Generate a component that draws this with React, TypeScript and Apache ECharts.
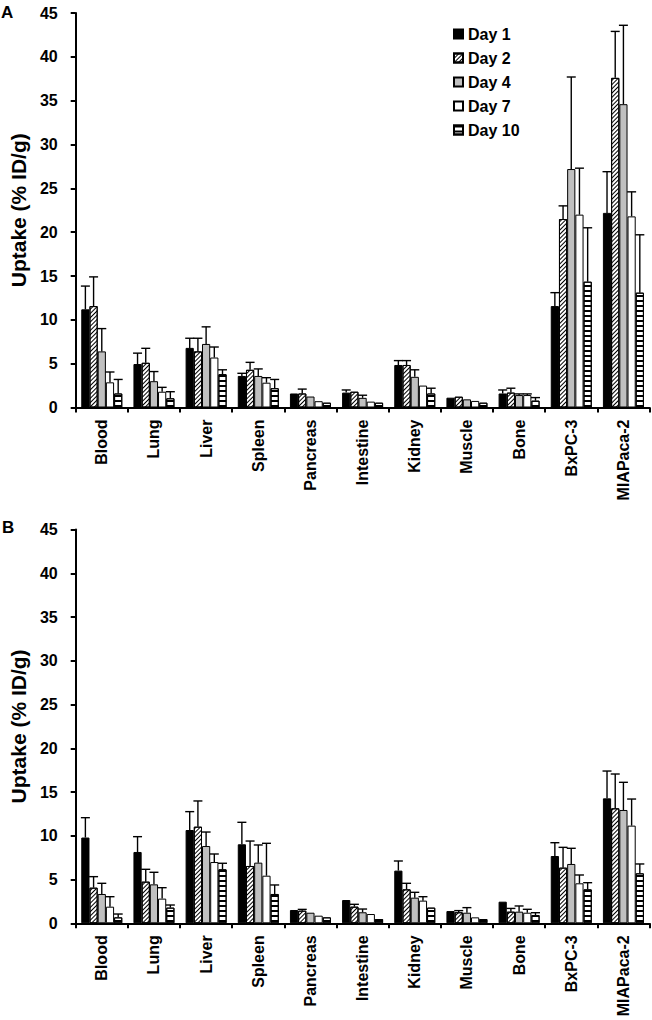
import React, { useEffect, useRef } from "react";
import * as echarts from "echarts";

const categories = ["Blood", "Lung", "Liver", "Spleen", "Pancreas", "Intestine", "Kidney", "Muscle", "Bone", "BxPC-3", "MIAPaca-2"];
const dayNames = ["Day 1", "Day 2", "Day 4", "Day 7", "Day 10"];
const yTicks = { min: 0, max: 45, interval: 5 };

// Panel A
const aDay1 = [11.2, 4.96, 6.8, 3.6, 1.6, 1.7, 4.85, 1.12, 1.6, 11.57, 22.2];
const aDay2 = [11.57, 5.1, 6.4, 4.3, 1.6, 1.8, 4.85, 1.23, 1.7, 21.5, 37.6];
const aDay4 = [6.4, 3.0, 7.25, 3.6, 1.25, 1.1, 3.5, 0.93, 1.42, 27.2, 34.6];
const aDay7 = [2.87, 1.8, 5.7, 2.83, 0.72, 0.67, 2.5, 0.75, 1.42, 22.0, 21.8];
const aDay10 = [1.6, 1.05, 3.8, 2.2, 0.55, 0.55, 1.6, 0.55, 0.78, 14.35, 13.1];
const aErr1 = [2.65, 1.24, 1.1, 0.3, 0, 0.3, 0.5, 0, 0.4, 1.53, 4.7];
const aErr2 = [3.33, 1.65, 1.5, 0.85, 0.5, 0, 0.5, 0, 0.5, 1.5, 5.3];
const aErr4 = [2.6, 1.1, 1.95, 0.8, 0, 0.3, 0.8, 0, 0.13, 10.5, 9.0];
const aErr7 = [1.18, 0.5, 1.2, 0.57, 0, 0, 0, 0, 0.13, 5.3, 2.8];
const aErr10 = [1.6, 0.75, 0.5, 1.0, 0, 0, 0.6, 0, 0.35, 6.15, 6.6];

// Panel B
const bDay1 = [9.8, 8.15, 10.66, 9.03, 1.52, 2.66, 6.02, 1.4, 2.47, 7.69, 14.28];
const bDay2 = [4.07, 4.76, 11.04, 6.55, 1.44, 1.9, 3.88, 1.26, 1.33, 6.36, 13.14];
const bDay4 = [3.35, 4.45, 8.83, 6.93, 1.21, 1.26, 2.93, 1.21, 1.33, 6.78, 12.95];
const bDay7 = [1.9, 2.82, 7.0, 5.44, 0.87, 1.06, 2.59, 0.68, 1.21, 4.57, 11.16];
const bDay10 = [0.68, 1.79, 6.17, 3.35, 0.68, 0.49, 1.79, 0.49, 0.95, 3.88, 5.71];
const bErr1 = [2.27, 1.75, 2.1, 2.51, 0, 0, 1.1, 0, 0, 1.52, 3.12];
const bErr2 = [1.26, 1.41, 2.94, 2.85, 0.15, 0.27, 0.69, 0.19, 0.37, 2.32, 3.92];
const bErr4 = [1.22, 1.38, 1.6, 2.02, 0, 0.37, 0.61, 0.58, 0.65, 1.79, 3.16];
const bErr7 = [1.14, 1.25, 0.92, 3.7, 0, 0, 0.45, 0, 0.39, 0.95, 3.04];
const bErr10 = [0.38, 0.3, 0.69, 1.03, 0, 0, 0, 0, 0.26, 0.76, 1.07];

const panelA = [aDay1, aDay2, aDay4, aDay7, aDay10];
const panelAErr = [aErr1, aErr2, aErr4, aErr7, aErr10];
const panelB = [bDay1, bDay2, bDay4, bDay7, bDay10];
const panelBErr = [bErr1, bErr2, bErr4, bErr7, bErr10];

const FONT = "'Liberation Sans', Arial, Helvetica, sans-serif";
const BAR_W = 8.2;
const CAP = 4.5;

const dayStyles: any[] = [
  { color: "#000000", borderColor: "#000", borderWidth: 1 },
  {
    color: "#ffffff", borderColor: "#000", borderWidth: 1,
    decal: { symbol: "rect", symbolSize: 1, dashArrayX: [1, 0], dashArrayY: [1, 2], rotation: -Math.PI / 4, color: "#000" },
  },
  { color: "#c0c0c0", borderColor: "#000", borderWidth: 1 },
  { color: "#ffffff", borderColor: "#000", borderWidth: 1 },
  {
    color: "#ffffff", borderColor: "#000", borderWidth: 1,
    decal: { symbol: "rect", symbolSize: 1, dashArrayX: [1, 0], dashArrayY: [2, 3], rotation: 0, color: "#000" },
  },
];

function buildPanel(idx: number, values: number[][], errs: number[][]) {
  const series: any[] = values.map((vals, s) => ({
    type: "bar",
    name: dayNames[s],
    xAxisIndex: idx,
    yAxisIndex: idx,
    data: vals,
    barWidth: BAR_W,
    barGap: "0%",
    itemStyle: dayStyles[s],
    emphasis: { disabled: true },
    z: 2,
  }));
  const errData: number[][] = [];
  values.forEach((vals, s) => {
    vals.forEach((v, c) => {
      errData.push([c, v, errs[s][c], s]);
    });
  });
  series.push({
    type: "custom",
    name: "err" + idx,
    xAxisIndex: idx,
    yAxisIndex: idx,
    data: errData,
    encode: { x: 0, y: 1 },
    z: 5,
    silent: true,
    renderItem: (params: any, api: any) => {
      const c = api.value(0);
      const v = api.value(1);
      const e = api.value(2);
      const s = api.value(3);
      if (!(e > 0)) return null;
      const p0 = api.coord([c, v]);
      const p1 = api.coord([c, v + e]);
      const cx = p0[0] + (s - 2) * BAR_W;
      return {
        type: "group",
        children: [
          { type: "line", shape: { x1: cx, y1: p0[1], x2: cx, y2: p1[1] }, style: { stroke: "#000", lineWidth: 1.4 } },
          { type: "line", shape: { x1: cx - CAP, y1: p1[1], x2: cx + CAP, y2: p1[1] }, style: { stroke: "#000", lineWidth: 1.4 } },
        ],
      };
    },
  });
  return series;
}

function makeXAxis(idx: number) {
  return {
    type: "category",
    gridIndex: idx,
    data: categories,
    boundaryGap: true,
    axisLine: { show: true, lineStyle: { color: "#000", width: 2 } },
    axisTick: { show: true, length: 5, lineStyle: { color: "#000", width: 2 } },
    axisLabel: { rotate: 90, margin: 12, color: "#000", fontSize: 16, fontWeight: "bold", fontFamily: FONT },
    splitLine: { show: false },
  };
}

function makeYAxis(idx: number) {
  return {
    type: "value",
    gridIndex: idx,
    min: yTicks.min,
    max: yTicks.max,
    interval: yTicks.interval,
    name: "Uptake (% ID/g)",
    nameLocation: "middle",
    nameGap: 38,
    nameTextStyle: { color: "#000", fontSize: 21, fontWeight: "bold", fontFamily: FONT },
    axisLine: { show: true, lineStyle: { color: "#000", width: 2 } },
    axisTick: { show: true, length: 5, lineStyle: { color: "#000", width: 2 } },
    axisLabel: { margin: 18, color: "#000", fontSize: 16, fontWeight: "bold", fontFamily: FONT },
    splitLine: { show: false },
  };
}

export default function App() {
  const ref = useRef<HTMLDivElement>(null);
  useEffect(() => {
    if (!ref.current) return;
    const chart = echarts.init(ref.current, null, { renderer: "svg" });
    chart.setOption({
      animation: false,
      backgroundColor: "#ffffff",
      grid: [
        { left: 71.5, top: 13, width: 578, height: 394.5 },
        { left: 71.5, top: 529.5, width: 578, height: 393.8 },
      ],
      xAxis: [makeXAxis(0), makeXAxis(1)],
      yAxis: [makeYAxis(0), makeYAxis(1)],
      legend: {
        data: dayNames,
        orient: "vertical",
        left: 448,
        top: 21,
        itemWidth: 9,
        itemHeight: 9,
        itemGap: 8,
        icon: "rect",
        selectedMode: false,
        textStyle: { color: "#000", fontSize: 16, fontWeight: "bold", fontFamily: FONT, lineHeight: 16 },
      },
      graphic: [
        { type: "text", left: 1, top: 4, style: { text: "A", fontSize: 17, fontWeight: "bold", fontFamily: FONT, fill: "#000" } },
        { type: "text", left: 2, top: 519, style: { text: "B", fontSize: 17, fontWeight: "bold", fontFamily: FONT, fill: "#000" } },
      ],
      series: [...buildPanel(0, panelA, panelAErr), ...buildPanel(1, panelB, panelBErr)],
    });
    return () => chart.dispose();
  }, []);
  return <div ref={ref} style={{ position: "absolute", left: 0, top: 0, width: 652, height: 1020 }} />;
}
